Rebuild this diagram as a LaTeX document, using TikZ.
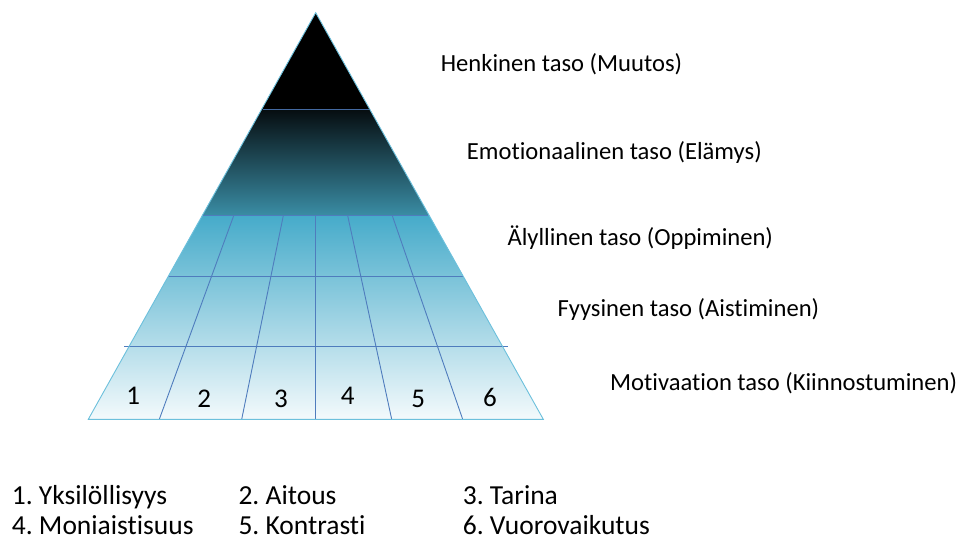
\documentclass[tikz,border=0pt]{standalone}
\usepackage{fontspec}
\setmainfont[Ligatures={NoCommon}]{Carlito}
\frenchspacing
\definecolor{edgeblue}{HTML}{6CC0DC}
\definecolor{gridblue}{HTML}{4F7CBD}
\definecolor{midtop}{HTML}{060D10}
\definecolor{midbot}{HTML}{3A8DA5}
\definecolor{lowtop}{HTML}{46ABCA}
\definecolor{lowbot}{HTML}{F4FAFC}
\tikzset{
  levellabel/.style={anchor=base west, inner sep=0pt, font=\fontsize{24.6}{28}\selectfont},
  legendtext/.style={anchor=base west, inner sep=0pt, font=\fontsize{27.5}{31}\selectfont},
  cellnum/.style={anchor=base, inner sep=0pt, font=\fontsize{27}{31}\selectfont},
  gridline/.style={draw=gridblue, line width=0.9pt},
}
\begin{document}
\begin{tikzpicture}[x=1pt,y=-1pt]
\useasboundingbox (0,0) rectangle (963,540);
\coordinate (apex) at (315.7,12.7);
\coordinate (bl) at (88.3,419.3);
\coordinate (br) at (543.3,419.3);
\begin{scope}
  \clip (apex) -- (bl) -- (br) -- cycle;
  \fill[black] (80,0) rectangle (560,109.3);
  \shade[top color=midtop, bottom color=midbot] (80,109.3) rectangle (560,215.9);
  \shade[top color=lowtop, bottom color=lowbot] (80,215.6) rectangle (560,420);
\end{scope}
% horizontal lines
\draw[draw=gridblue!85!black, line width=1.4pt] (262.7,109.3) -- (369.3,109.3);
\draw[gridline] (203,215.7) -- (427.5,215.7);
\draw[gridline] (168,276) -- (463.3,276);
\draw[gridline] (124.3,346.7) -- (507.7,346.7);
% vertical lines
\draw[gridline] (159.3,419.3) -- (233.7,215.7);
\draw[gridline] (241.7,419.3) -- (283.3,215.7);
\draw[gridline] (315.7,419.3) -- (315.7,215.7);
\draw[gridline] (391.7,419.3) -- (347.7,215.7);
\draw[gridline] (462.7,419.3) -- (392.3,215.7);
% outline
\draw[edgeblue, line width=0.9pt, line join=miter] (apex) -- (bl) -- (br) -- cycle;
% numbers
\node[cellnum] (n1) at (133.3,404) {1};
\node[cellnum] (n2) at (204.3,407.3) {2};
\node[cellnum] (n3) at (281,407.3) {3};
\node[cellnum] (n4) at (347.7,404) {4};
\node[cellnum] (n5) at (418.3,407.3) {5};
\node[cellnum] (n6) at (490,406) {6};
% level labels
\node[levellabel] (l5) at (440.7,71.7) {Henkinen taso (Muutos)};
\node[levellabel] (l4) at (466.7,160) {Emotionaalinen taso (Elämys)};
\node[levellabel] (l3) at (507.3,245) {Älyllinen taso (Oppiminen)};
\node[levellabel] (l2) at (557.3,316.7) {Fyysinen taso (Aistiminen)};
\node[levellabel] (l1) at (610,390) {Motivaation taso (Kiinnostuminen)};
% legend
\node[legendtext] (g1) at (11.7,504.7) {1. Yksilöllisyys};
\node[legendtext] (g2) at (238.3,504.7) {2. Aitous};
\node[legendtext] (g3) at (462.7,504.7) {3. Tarina};
\node[legendtext] (g4) at (11.7,534) {4. Moniaistisuus};
\node[legendtext] (g5) at (238.3,534) {5. Kontrasti};
\node[legendtext] (g6) at (462.7,534) {6. Vuorovaikutus};
\end{tikzpicture}
\end{document}
